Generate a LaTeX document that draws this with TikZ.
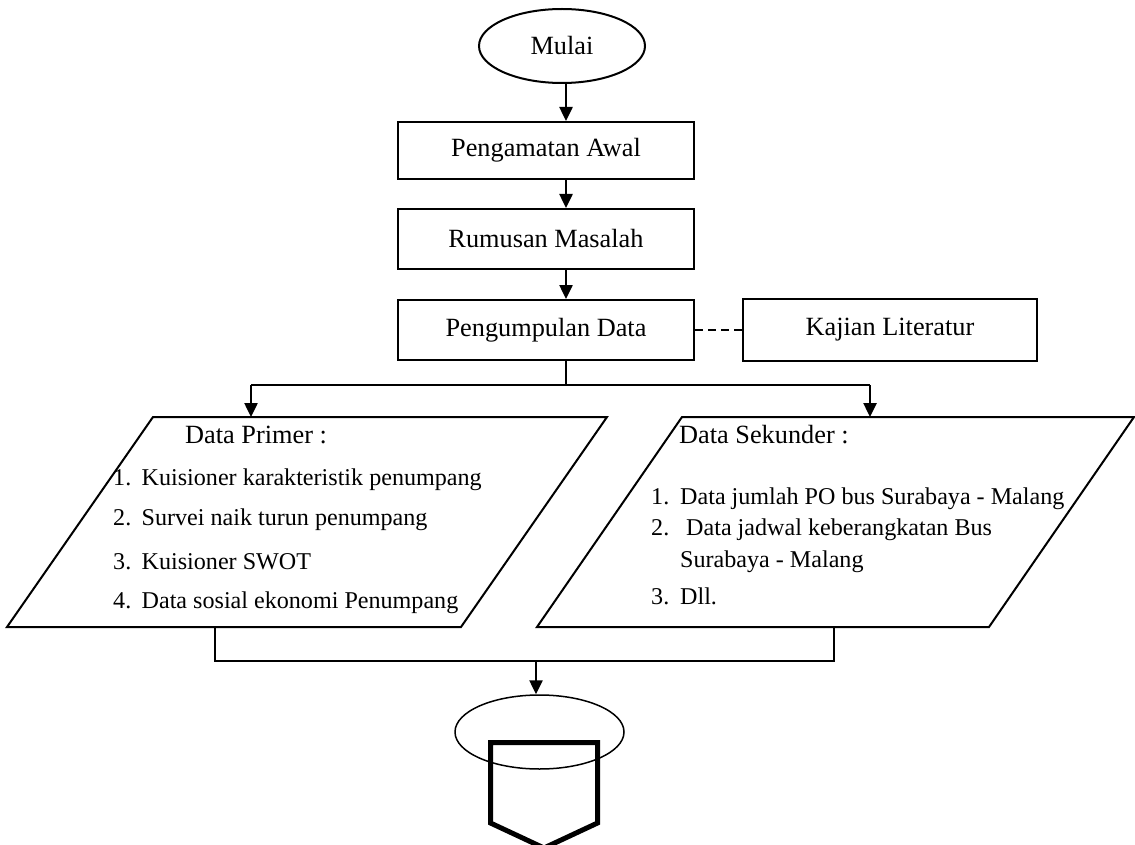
\documentclass[tikz,border=0pt]{standalone}
\usepackage{fontspec}
\setmainfont{Liberation Serif}
\usetikzlibrary{shapes.geometric,arrows.meta}
\begin{document}
\begin{tikzpicture}[x=1pt,y=-1pt,
  bigfont/.style={font=\fontsize{26.3}{30}\selectfont},
  box/.style={draw,line width=2pt,inner sep=0pt,bigfont},
  term/.style={draw,ellipse,line width=2pt,inner sep=0pt,bigfont},
  arr/.style={line width=2.5pt,-{Triangle[length=14pt,width=13pt]}},
  link/.style={line width=2pt},
  head/.style={anchor=west,inner sep=0pt,bigfont},
  item/.style={anchor=west,inner sep=0pt,font=\fontsize{24.1}{28}\selectfont},
  io/.style={draw,line width=2pt,line join=miter}
]
\useasboundingbox (0,0) rectangle (1135,845);

% main column
\node[term,minimum width=166pt,minimum height=74pt] (mulai) at (562,46) {Mulai};
\node[box,minimum width=296pt,minimum height=57pt] (pa) at (546,150.5) {Pengamatan Awal};
\node[box,minimum width=296pt,minimum height=60pt] (rm) at (546,239) {Rumusan Masalah};
\node[box,minimum width=296pt,minimum height=60pt] (pd) at (546,330) {Pengumpulan Data};
\node[box,minimum width=294pt,minimum height=62pt] (kl) at (890,330) {Kajian Literatur};

\coordinate (axis) at (566,0);
\draw[arr] (mulai.south -| axis) -- (pa.north -| axis);
\draw[arr] (pa.south -| axis) -- (rm.north -| axis);
\draw[arr] (rm.south -| axis) -- (pd.north -| axis);
\draw[link,dash pattern=on 8pt off 5pt] (pd.east) -- (kl.west);

% split towards the two data inputs
\coordinate (split) at (566,385);
\coordinate (lsplit) at (251,385);
\coordinate (rsplit) at (870,385);
\draw[link] (pd.south -| axis) -- (split);
\draw[link] (lsplit) -- (rsplit);

% primary data (input/output)
\coordinate (p1) at (153,417);
\coordinate (p2) at (607,417);
\coordinate (p3) at (461,627);
\coordinate (p4) at (7,627);
\draw[io] (p1) -- (p2) -- (p3) -- (p4) -- cycle;
\draw[arr] (lsplit) -- (lsplit |- p1);

% secondary data (input/output)
\coordinate (s1) at (682,417);
\coordinate (s2) at (1134,417);
\coordinate (s3) at (989,627);
\coordinate (s4) at (537,627);
\draw[io] (s1) -- (s2) -- (s3) -- (s4) -- cycle;
\draw[arr] (rsplit) -- (rsplit |- s1);

\node[head] (hp) at (185,435) {Data Primer :};
\node[item] (ip1) at (113,480) {\makebox[28.5pt][l]{1.}Kuisioner karakteristik penumpang};
\node[item] (ip2) at (113,520) {\makebox[28.5pt][l]{2.}Survei naik turun penumpang};
\node[item] (ip3) at (113,562) {\makebox[28.5pt][l]{3.}Kuisioner SWOT};
\node[item] (ip4) at (113,602.5) {\makebox[28.5pt][l]{4.}Data sosial ekonomi Penumpang};

\node[head] (hs) at (679,435) {Data Sekunder :};
\node[item] (is1) at (651,498.5) {\makebox[29pt][l]{1.}Data jumlah PO bus Surabaya - Malang};
\node[item] (is2) at (651,530) {\makebox[29pt][l]{2.}\hspace{6pt}Data jadwal keberangkatan Bus};
\node[item] (is2b) at (680,562) {Surabaya - Malang};
\node[item] (is3) at (651,596) {\makebox[29pt][l]{3.}Dll.};

% merge into the off-page connector
\coordinate (lj) at (215,627);
\coordinate (rj) at (834,627);
\coordinate (merge) at (536,661);
\draw[link] (lj) -- (lj |- merge) -- (rj |- merge) -- (rj);
\node[draw,ellipse,line width=1.5pt,inner sep=0pt,minimum width=169pt,minimum height=74pt] (conn) at (539.5,732) {};
\draw[arr] (merge) -- (merge |- conn.north);
\draw[line width=5pt,line join=miter] (490.5,742.5) -- (597.5,742.5) -- (597.5,823) -- (544,848) -- (490.5,823) -- cycle;
\end{tikzpicture}
\end{document}
